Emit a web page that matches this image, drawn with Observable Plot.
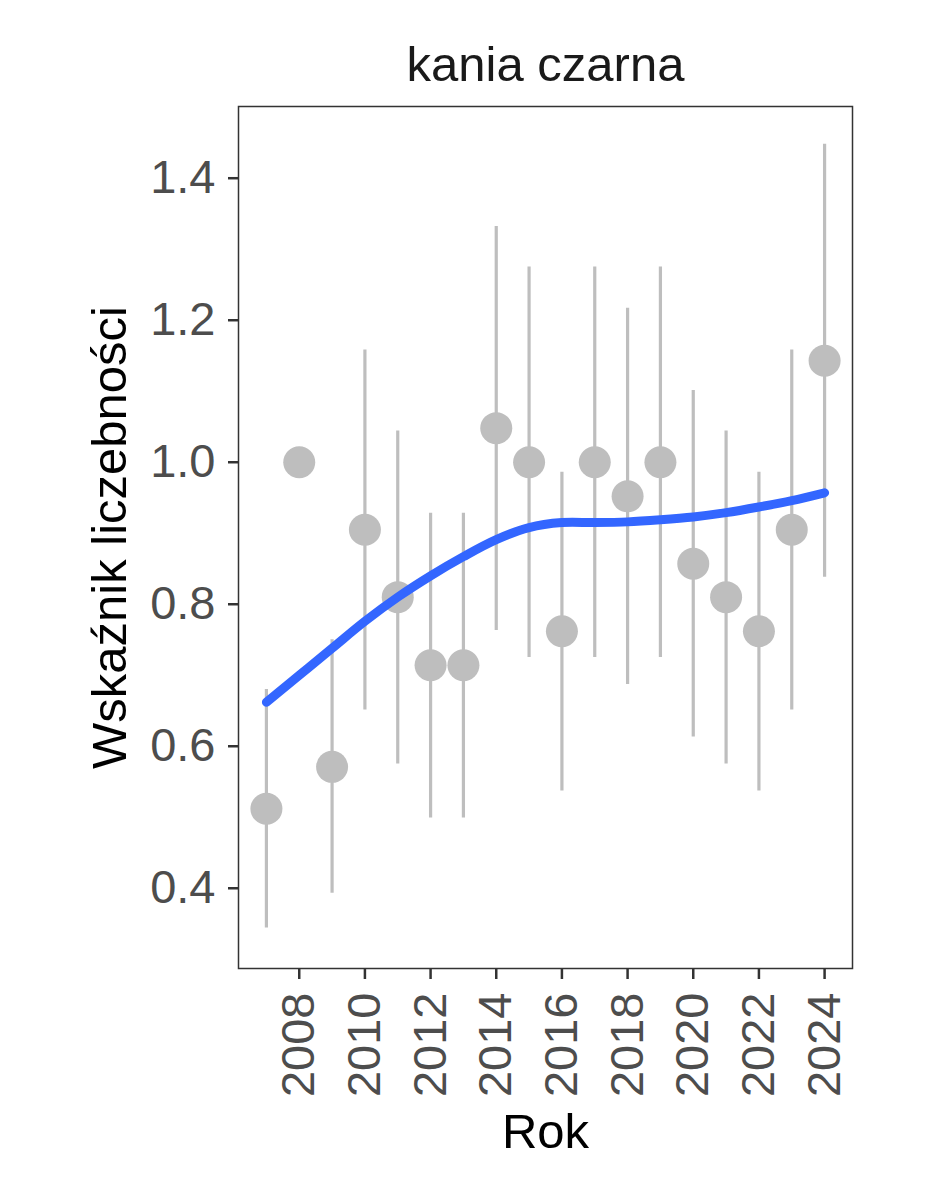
<!DOCTYPE html>
<html>
<head>
<meta charset="utf-8">
<script src="https://cdn.jsdelivr.net/npm/d3@7"></script>
<script src="https://cdn.jsdelivr.net/npm/@observablehq/plot@0.6"></script>
<style>
  html, body { margin: 0; padding: 0; background: #ffffff; }
  #chart svg { display: block; }
</style>
</head>
<body>
<div id="chart"></div>
<script>
// ---- data ----
const title = "kania czarna";
const xTitle = "Rok";
const yTitle = "Wskaźnik liczebności";

const years   = [2007, 2008, 2009, 2010, 2011, 2012, 2013, 2014, 2015, 2016, 2017, 2018, 2019, 2020, 2021, 2022, 2023, 2024];
const index   = [0.512, 1.000, 0.571, 0.905, 0.810, 0.714, 0.714, 1.048, 1.000, 0.762, 1.000, 0.952, 1.000, 0.857, 0.810, 0.762, 0.905, 1.143];
const lower   = [0.344, null,  0.393, 0.651, 0.575, 0.499, 0.499, 0.763, 0.725, 0.537, 0.725, 0.687, 0.725, 0.613, 0.575, 0.537, 0.651, 0.838];
const upper   = [0.680, null,  0.750, 1.158, 1.044, 0.928, 0.928, 1.332, 1.275, 0.986, 1.275, 1.217, 1.275, 1.101, 1.044, 0.986, 1.158, 1.448];
const smooth  = [0.662, 0.700, 0.738, 0.776, 0.810, 0.840, 0.867, 0.891, 0.908, 0.915, 0.915, 0.916, 0.919, 0.923, 0.929, 0.937, 0.946, 0.957];

const yTicks = [0.4, 0.6, 0.8, 1.0, 1.2, 1.4];
const xTicks = [2008, 2010, 2012, 2014, 2016, 2018, 2020, 2022, 2024];

// tables built from the arrays
const points = years.map((y, i) => ({year: y, value: index[i], lo: lower[i], hi: upper[i]}));
const bars = points.filter(d => d.lo != null && d.hi != null);
const fit = years.map((y, i) => ({year: y, value: smooth[i]}));

const grey = "#BEBEBE";
const blue = "#3366FF";
const font = "'Liberation Sans', Arial, Helvetica, sans-serif";

const chart = Plot.plot({
  width: 944,
  height: 1181,
  marginLeft: 238,
  marginRight: 92,
  marginTop: 106,
  marginBottom: 213,
  style: {fontFamily: font, background: "#ffffff", overflow: "visible"},
  x: {domain: [2006.15, 2024.85], label: null},
  y: {domain: [0.287, 1.501], label: null},
  marks: [
    Plot.ruleX(bars, {x: "year", y1: "lo", y2: "hi", stroke: grey, strokeWidth: 3.2}),
    Plot.dot(points, {x: "year", y: "value", r: 16, fill: grey, stroke: null}),
    Plot.line(fit, {x: "year", y: "value", stroke: blue, strokeWidth: 9, curve: "catmull-rom"}),
    Plot.frame({stroke: "#333333", strokeWidth: 1.5}),
    Plot.axisY({
      ticks: yTicks, tickFormat: d3.format(".1f"), tickSize: 10, tickPadding: 13,
      fontSize: 47, stroke: "#333333", fill: "#4D4D4D", strokeWidth: 2.5, label: null
    }),
    Plot.axisX({
      ticks: xTicks, tickFormat: d => String(d), tickRotate: -90, tickSize: 11, tickPadding: 13,
      fontSize: 47, stroke: "#333333", fill: "#4D4D4D", strokeWidth: 2.5, label: null
    }),
    Plot.text([title], {frameAnchor: "top", lineAnchor: "bottom", textAnchor: "middle", dy: -26, fontSize: 49, fill: "#1a1a1a"}),
    Plot.text([xTitle], {frameAnchor: "bottom", lineAnchor: "bottom", textAnchor: "middle", dy: 179, fontSize: 49, fill: "#000000"}),
    Plot.text([yTitle], {frameAnchor: "left", lineAnchor: "bottom", textAnchor: "middle", rotate: -90, dx: -113, fontSize: 49, fill: "#000000"})
  ]
});

document.getElementById("chart").appendChild(chart);
</script>
</body>
</html>
